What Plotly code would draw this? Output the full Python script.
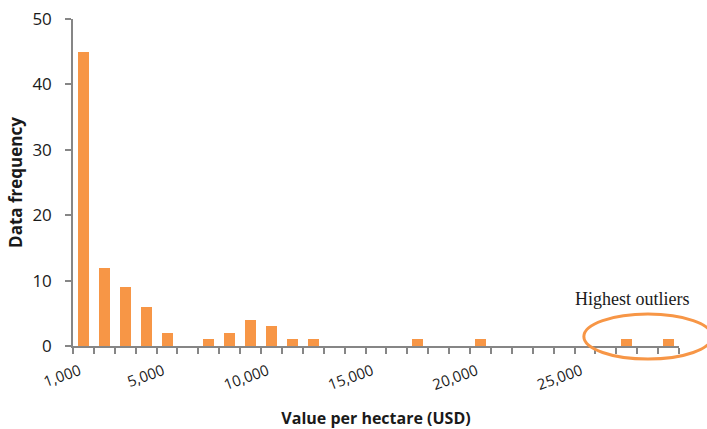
import plotly.graph_objects as go

# Histogram bins: upper value per hectare (USD) for each bin, 1,000 wide
bin_values = [1000 * k for k in range(1, 30)]
frequency = [45, 12, 9, 6, 2, 0, 1, 2, 4, 3, 1, 1, 0, 0, 0, 0, 1, 0, 0, 1,
             0, 0, 0, 0, 0, 0, 1, 0, 1]
label_bins = [1000, 5000, 10000, 15000, 20000, 25000]
label_text = ["1,000", "5,000", "10,000", "15,000", "20,000", "25,000"]

ORANGE = "#F79646"
AXIS = "#868686"

positions = list(range(1, len(bin_values) + 1))
pos_of = {v: i + 1 for i, v in enumerate(bin_values)}

fig = go.Figure()
fig.add_trace(go.Bar(
    x=positions, y=frequency, width=0.53,
    marker=dict(color=ORANGE, line=dict(width=0)),
    hovertext=[f"{v:,}" for v in bin_values],
))

fig.update_layout(
    width=707, height=429,
    margin=dict(l=73, r=28, t=19, b=83),
    paper_bgcolor="white", plot_bgcolor="white",
    showlegend=False,
    font=dict(family="Open Sans, sans-serif", color="#1a1a1a"),
    xaxis=dict(
        automargin=False,
        range=[0.5, len(bin_values) + 0.5],
        tickvals=[pos_of[v] for v in label_bins],
        ticktext=label_text,
        tickangle=-20,
        ticks="outside", ticklen=9, tickcolor="rgba(0,0,0,0)",
        ticklabelshift=-4,
        showgrid=False, zeroline=False,
        showline=True, linecolor=AXIS, linewidth=1.5,
        tickfont=dict(size=15),
        minor=dict(tickvals=[p - 0.5 for p in positions] + [len(bin_values) + 0.5],
                   ticks="outside", ticklen=6, tickcolor=AXIS, tickwidth=1.5,
                   showgrid=False),
        title=dict(text="<b>Value per hectare (USD)</b>", font=dict(size=16),
                   standoff=27),
    ),
    yaxis=dict(
        automargin=False,
        range=[0, 50], dtick=10,
        ticks="outside", ticklen=6, tickcolor=AXIS, tickwidth=1.5,
        ticklabelstandoff=10,
        showgrid=False, zeroline=False,
        showline=True, linecolor=AXIS, linewidth=1.5,
        tickfont=dict(size=17),
        title=dict(text="<b>Data frequency</b>", font=dict(size=17),
                   standoff=5),
    ),
    bargap=0,
)

# Ring around the two highest outliers
fig.add_shape(type="circle", xref="paper", yref="paper",
              x0=0.843, x1=1.0545, y0=-0.040, y1=0.098,
              line=dict(color=ORANGE, width=3))
fig.add_annotation(text="Highest outliers", xref="paper", yref="paper",
                   x=0.924, y=0.144, xanchor="center", yanchor="middle",
                   showarrow=False,
                   font=dict(family="Liberation Serif, serif",
                             size=18, color="#1a1a1a"))

fig.write_html("out.html")
